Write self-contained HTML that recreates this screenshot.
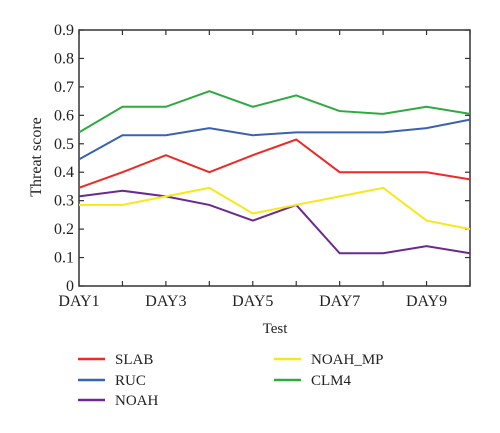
<!DOCTYPE html>
<html><head><meta charset="utf-8"><style>
body{margin:0;background:#fff;}
text{font-family:"Liberation Serif",serif;fill:#222;}
</style></head><body>
<svg id="chart" width="500" height="428" viewBox="0 0 500 428" xmlns="http://www.w3.org/2000/svg"></svg>
<script>
const categories=["DAY1","DAY2","DAY3","DAY4","DAY5","DAY6","DAY7","DAY8","DAY9","DAY10"];
const yTicks=[0,0.1,0.2,0.3,0.4,0.5,0.6,0.7,0.8,0.9];
const seriesNames=["SLAB","RUC","NOAH","NOAH_MP","CLM4"];
const seriesColors=["#ee2a24","#3a62b0","#6a2a8e","#f7e81a","#2eaa3e"];
const slab=[0.345,0.40,0.46,0.40,0.46,0.515,0.40,0.40,0.40,0.375];
const ruc=[0.445,0.53,0.53,0.555,0.53,0.54,0.54,0.54,0.555,0.585];
const noah=[0.315,0.335,0.315,0.285,0.23,0.285,0.115,0.115,0.14,0.115];
const noahMp=[0.285,0.285,0.315,0.345,0.255,0.285,0.315,0.345,0.23,0.20];
const clm4=[0.54,0.63,0.63,0.685,0.63,0.67,0.615,0.605,0.63,0.605];
const series=[slab,ruc,noah,noahMp,clm4];
const svg=document.getElementById('chart');const NS="http://www.w3.org/2000/svg";
const L=79,R=470,T=30,B=286;
const x=i=>L+(R-L)*i/(categories.length-1);
const y=v=>B-(B-T)*v/0.9;
function mk(tag,attrs,name,parent){const e=document.createElementNS(NS,tag);for(const k in attrs)e.setAttribute(k,attrs[k]);


(parent||svg).appendChild(e);return e;}
mk('rect',{x:L,y:T,width:R-L,height:B-T,fill:"none",stroke:"#333","stroke-width":1.5},'plot-frame');
yTicks.forEach(v=>{mk('line',{x1:L,x2:L+5,y1:y(v),y2:y(v),stroke:"#333","stroke-width":1.2},'y-tick');
mk('line',{x1:R-5,x2:R,y1:y(v),y2:y(v),stroke:"#333","stroke-width":1.2},'y-tick-right');
const t=mk('text',{x:L-5,y:y(v)+5,"text-anchor":"end","font-size":16},'y-tick-label');t.textContent=v===0?"0":v.toFixed(1);});
categories.forEach((c,i)=>{mk('line',{x1:x(i),x2:x(i),y1:B,y2:B-5,stroke:"#333","stroke-width":1.2},'x-tick');
mk('line',{x1:x(i),x2:x(i),y1:T,y2:T+5,stroke:"#333","stroke-width":1.2},'x-tick-top');
if(i%2===0){const t=mk('text',{x:x(i),y:B+20,"text-anchor":"middle","font-size":16},'x-tick-label');t.textContent=c;}});
const xt=mk('text',{x:275,y:333,"text-anchor":"middle","font-size":15},'x-axis-title');xt.textContent="Test";
const yt=mk('text',{x:0,y:0,"text-anchor":"middle","font-size":16,transform:"translate(41,157) rotate(-90)"},'y-axis-title');yt.textContent="Threat score";
series.forEach((s,k)=>{mk('polyline',{points:s.map((v,i)=>x(i)+","+y(v)).join(" "),fill:"none",stroke:seriesColors[k],"stroke-width":2},'line-'+seriesNames[k].toLowerCase().replace('_','-'));});
const lp=[[78,359],[78,380],[78,400],[274,359],[274,380]];
seriesNames.forEach((n,k)=>{const [lx,ly]=lp[k];
mk('line',{x1:lx,x2:lx+27,y1:ly,y2:ly,stroke:seriesColors[k],"stroke-width":2.5},'legend-swatch');
const t=mk('text',{x:lx+37,y:ly+5,"font-size":15},'legend-label');t.textContent=n;});
</script>
</body></html>
